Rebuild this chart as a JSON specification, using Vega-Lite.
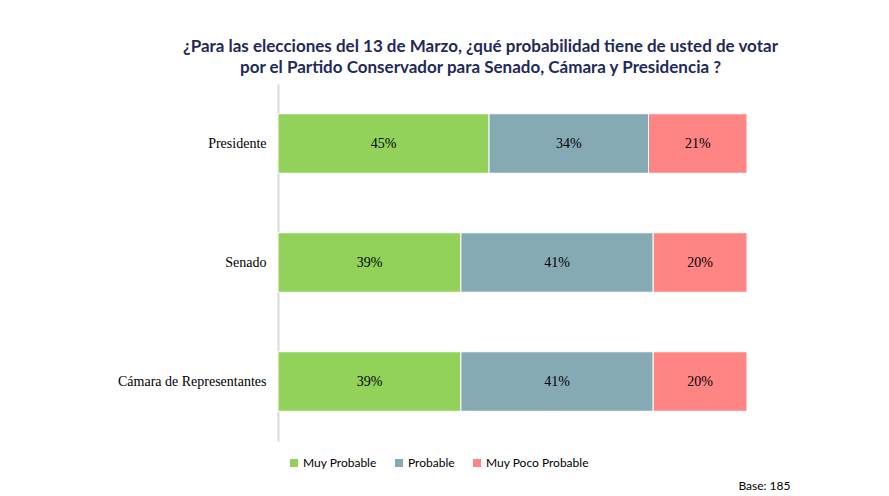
{
  "$schema": "https://vega.github.io/schema/vega-lite/v6.json",
  "autosize": "none",
  "width": 469,
  "height": 357,
  "padding": {"left": 278, "top": 84, "right": 142, "bottom": 55},
  "background": "white",
  "config": {"view": {"stroke": null}},
  "title": {
    "text": ["¿Para las elecciones del 13 de Marzo, ¿qué probabilidad tiene de usted de votar", "por el Partido Conservador para Senado, Cámara y Presidencia ?"],
    "font": "Lato",
    "fontSize": 17,
    "fontWeight": "bold",
    "color": "#1F2A5A",
    "lineHeight": 21,
    "anchor": "middle",
    "frame": "group",
    "dx": -32,
    "offset": 7
  },
  "data": {
    "values": [
      {"cat": "Presidente", "serie": "Muy Probable", "k": 1, "v": 0.45},
      {"cat": "Presidente", "serie": "Probable", "k": 2, "v": 0.34},
      {"cat": "Presidente", "serie": "Muy Poco Probable", "k": 3, "v": 0.21},
      {"cat": "Senado", "serie": "Muy Probable", "k": 1, "v": 0.39},
      {"cat": "Senado", "serie": "Probable", "k": 2, "v": 0.41},
      {"cat": "Senado", "serie": "Muy Poco Probable", "k": 3, "v": 0.20},
      {"cat": "Cámara de Representantes", "serie": "Muy Probable", "k": 1, "v": 0.39},
      {"cat": "Cámara de Representantes", "serie": "Probable", "k": 2, "v": 0.41},
      {"cat": "Cámara de Representantes", "serie": "Muy Poco Probable", "k": 3, "v": 0.20}
    ]
  },
  "transform": [
    {"stack": "v", "groupby": ["cat"], "sort": [{"field": "k", "order": "ascending"}], "as": ["v0", "v1"]},
    {"calculate": "(datum.v0 + datum.v1) / 2", "as": "mid"}
  ],
  "encoding": {
    "y": {
      "field": "cat",
      "type": "nominal",
      "sort": ["Presidente", "Senado", "Cámara de Representantes"],
      "scale": {"paddingInner": 0.5, "paddingOuter": 0.25},
      "axis": {
        "title": null,
        "ticks": false,
        "domainColor": "#D9D9D9",
        "domainWidth": 2,
        "labelFont": "Liberation Serif",
        "labelFontSize": 14,
        "labelColor": "#000000",
        "labelPadding": 12,
        "grid": false
      }
    }
  },
  "layer": [
    {
      "mark": {"type": "bar", "stroke": "white", "strokeWidth": 1},
      "encoding": {
        "x": {
          "field": "v0",
          "type": "quantitative",
          "scale": {"domain": [0, 1], "nice": false},
          "axis": {
            "labels": false,
            "ticks": false,
            "domain": false,
            "grid": false,
            "title": "Base: 185",
            "titleFont": "Lato",
            "titleFontSize": 12,
            "titleFontWeight": "normal",
            "titleColor": "#000000",
            "titleX": 512,
            "titleY": 48,
            "titleAlign": "right",
            "titleBaseline": "alphabetic"
          }
        },
        "x2": {"field": "v1"},
        "color": {
          "field": "serie",
          "type": "nominal",
          "scale": {
            "domain": ["Muy Probable", "Probable", "Muy Poco Probable"],
            "range": ["#92D25A", "#86AAB4", "#FF8585"]
          },
          "legend": {
            "title": null,
            "orient": "none",
            "direction": "horizontal",
            "legendX": 10,
            "legendY": 373,
            "symbolType": "square",
            "symbolSize": 64,
            "symbolStrokeWidth": 0,
            "labelFont": "Lato",
            "labelFontSize": 12,
            "labelColor": "#000000",
            "labelOffset": 3,
            "columnPadding": 16,
            "padding": 0
          }
        }
      }
    },
    {
      "mark": {"type": "text", "font": "Liberation Serif", "fontSize": 14, "color": "#000000", "align": "center", "baseline": "middle"},
      "encoding": {
        "x": {"field": "mid", "type": "quantitative"},
        "text": {"field": "v", "type": "quantitative", "format": ".0%"}
      }
    }
  ]
}
